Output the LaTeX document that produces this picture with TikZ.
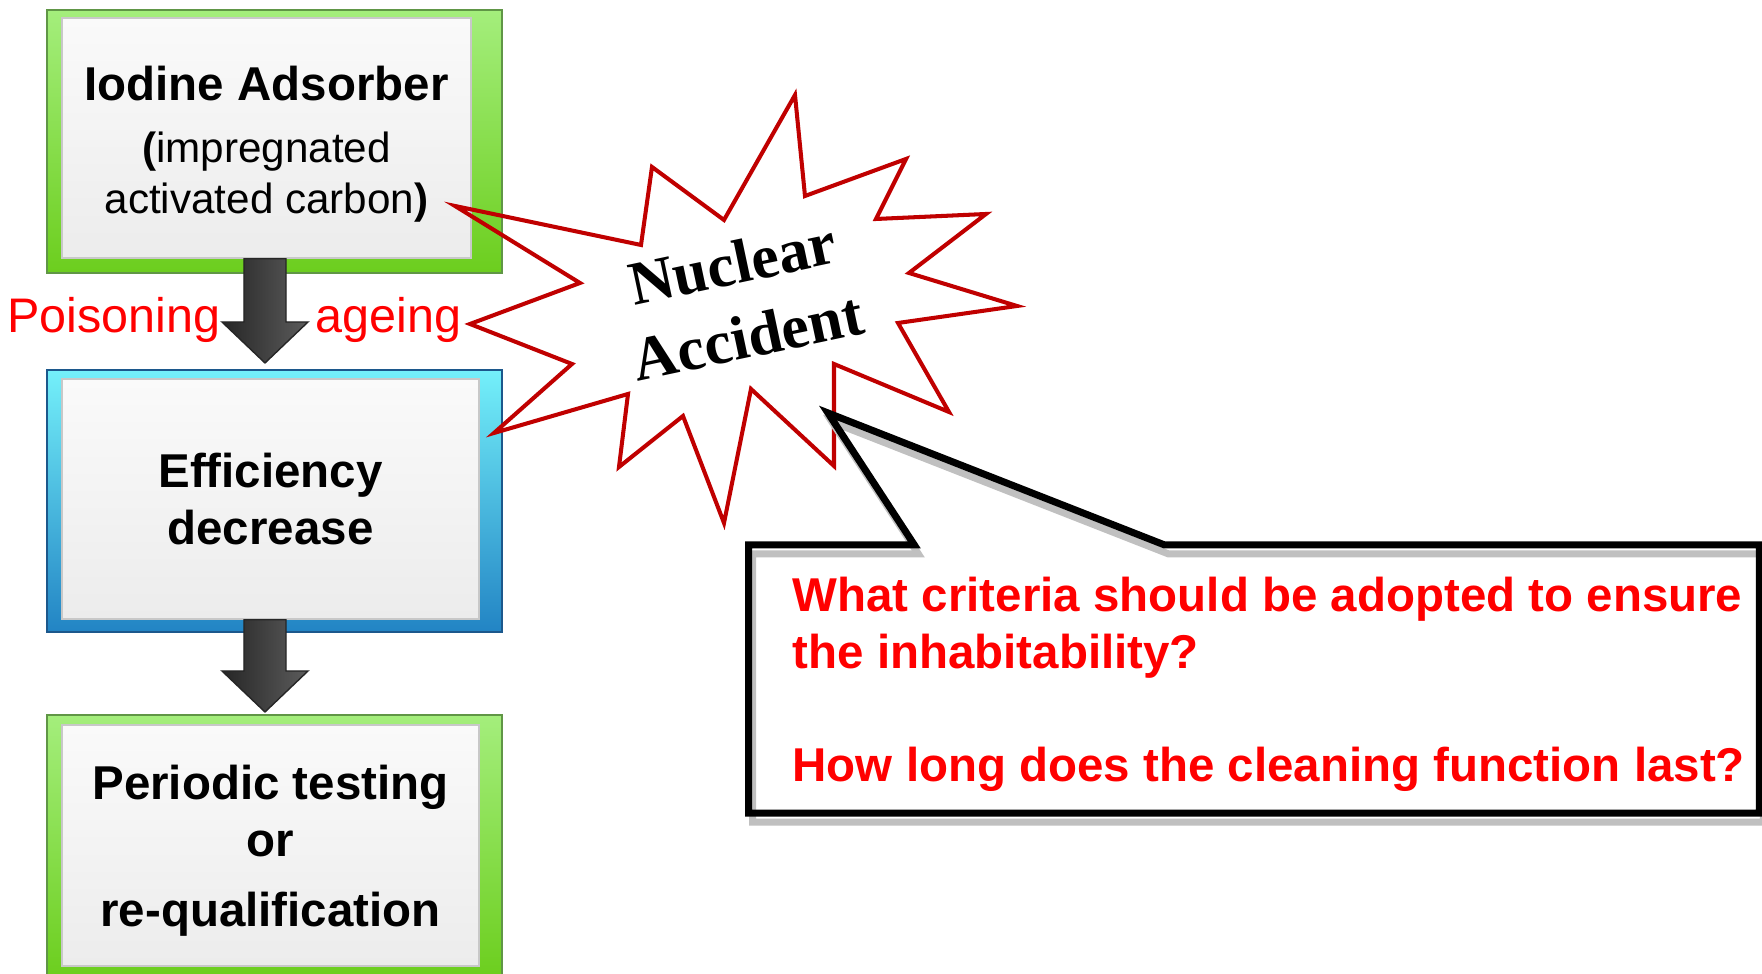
\documentclass[tikz,border=0pt]{standalone}
\usepackage{fontspec}
\setmainfont{Liberation Sans}
\newfontfamily\burstfont{Liberation Serif}
\usetikzlibrary{shapes.callouts}

\definecolor{greentop}{RGB}{164,238,124}
\definecolor{greenbot}{RGB}{108,206,30}
\definecolor{greenedge}{RGB}{96,150,70}
\definecolor{cyantop}{RGB}{116,240,250}
\definecolor{cyanbot}{RGB}{34,132,196}
\definecolor{cyanedge}{RGB}{28,88,140}
\definecolor{paneltop}{RGB}{250,250,250}
\definecolor{panelbot}{RGB}{236,236,236}
\definecolor{paneledge}{RGB}{200,200,200}
\definecolor{arrowdark}{RGB}{38,38,38}
\definecolor{arrowlight}{RGB}{92,92,92}
\definecolor{burstred}{RGB}{192,0,0}
\definecolor{shadowgray}{RGB}{192,192,192}

\tikzset{
  greenframe/.style={draw=greenedge,top color=greentop,bottom color=greenbot,inner sep=0pt,minimum width=4.55cm},
  cyanframe/.style={draw=cyanedge,top color=cyantop,bottom color=cyanbot,inner sep=0pt,minimum width=4.55cm},
  panel/.style={draw=paneledge,top color=paneltop,bottom color=panelbot,inner sep=0pt,align=center},
  redlabel/.style={text=red,inner sep=0pt,font=\fontsize{13.8}{16}\selectfont},
  question/.style={text=red,inner sep=0pt,align=left,font=\bfseries\fontsize{13.5}{16.2}\selectfont},
  blockarrow/.style={draw=black!85,thin,left color=arrowdark,right color=arrowlight,
    to path={([xshift=-2.1mm]\tikztostart) -- ([xshift=-2.1mm,yshift=4.1mm]\tikztotarget)
      -- ([xshift=-4.3mm,yshift=4.1mm]\tikztotarget) -- (\tikztotarget)
      -- ([xshift=4.3mm,yshift=4.1mm]\tikztotarget) -- ([xshift=2.1mm,yshift=4.1mm]\tikztotarget)
      -- ([xshift=2.1mm]\tikztostart) -- cycle}}
}

\begin{document}
\begin{tikzpicture}[x=0.01cm,y=-0.01cm,line join=miter]
\path[use as bounding box,fill=white] (0,0) rectangle (1762,974);

% left column of boxes
\node[greenframe,minimum height=2.63cm] (adsorberframe) at (274.5,141.5) {};
\node[panel,minimum width=4.09cm,minimum height=2.40cm,font=\fontsize{12}{14.5}\selectfont] (adsorber) at (266.5,138)
  {\rule{0pt}{13.4pt}{\bfseries\fontsize{13.5}{16}\selectfont Iodine Adsorber}\\[3.1pt]
   \textbf{(}impregnated\\activated carbon\textbf{)}};

\node[cyanframe,minimum height=2.62cm] (efficiencyframe) at (274.5,501) {};
\node[panel,minimum width=4.17cm,minimum height=2.40cm,font=\bfseries\fontsize{13.5}{16.2}\selectfont] (efficiency) at (270.5,499)
  {Efficiency\\decrease};

\node[greenframe,minimum height=2.62cm] (testingframe) at (274.5,846) {};
\node[panel,minimum width=4.17cm,minimum height=2.41cm,font=\bfseries\fontsize{13.5}{16.2}\selectfont] (testing) at (270.5,845.5)
  {\rule{0pt}{12.5pt}Periodic testing\\or\\[3.7pt]re-qualification};

\coordinate (tipA) at (265,363);
\coordinate (tipB) at (265,712);
\draw[blockarrow] (adsorber.south -| tipA) to (tipA);
\draw[blockarrow] (efficiency.south -| tipB) to (tipB);

\node[redlabel,anchor=base east] (poisoning) at (221,333) {Poisoning};
\node[redlabel,anchor=base west] (ageing) at (315,333) {ageing};

% the burst
\draw[burstred,line width=1.15pt] (455,206) -- (641,245) -- (652,167) -- (724,220) -- (795,95)
  -- (805,196) -- (906,159) -- (876,219) -- (986,214) -- (909,273) -- (1017,306)
  -- (898,323) -- (949,412) -- (834,364) -- (834,466) -- (751,389) -- (724,523)
  -- (683,416) -- (619,467) -- (628,394) -- (494,433) -- (572,364) -- (470,324)
  -- (580,283) -- cycle;
\node[rotate=12,align=center,inner sep=0pt,font=\burstfont\bfseries\fontsize{17.6}{21.3}\selectfont] (accident) at (740,300)
  {Nuclear\\Accident};

% callout with the questions
\coordinate (pointer) at (828,413);
\node[rectangle callout,callout absolute pointer={(pointer)},callout pointer width=2.5cm,
  minimum width=10.1cm,minimum height=2.68cm,draw=black,line width=2pt,inner sep=0pt,
  preaction={draw=shadowgray,transform canvas={shift={(4,9)}}}] (callout) at (1254,679) {};
\node[question,anchor=base west] (questions) at (792,782)
  {What criteria should be adopted to ensure\\the inhabitability?\\[16.2pt]How long does the cleaning function last?};

\end{tikzpicture}
\end{document}
